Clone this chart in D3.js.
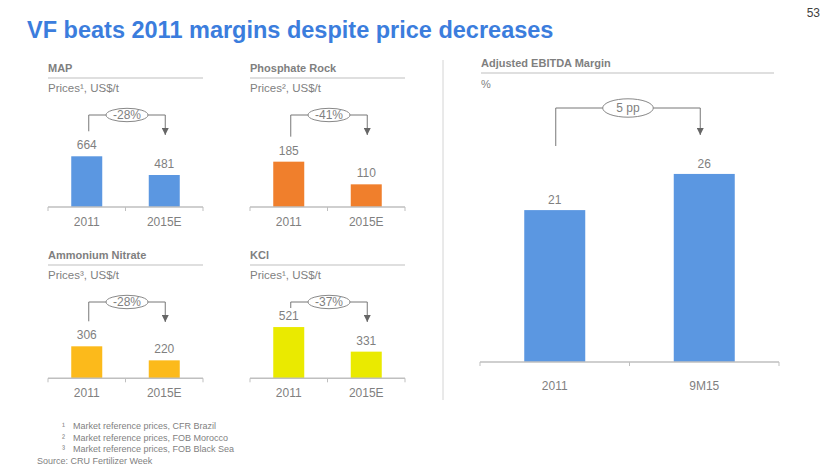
<!DOCTYPE html>
<html>
<head>
<meta charset="utf-8">
<script src="https://cdn.jsdelivr.net/npm/d3@7"></script>
<style>
  html, body { margin: 0; padding: 0; background: #fff; }
  svg { display: block; font-family: "Liberation Sans", Arial, sans-serif; }
</style>
</head>
<body>
<svg id="chart" width="830" height="467"></svg>
<script>
// ---------- DATA ----------
const pageTitle = "VF beats 2011 margins despite price decreases";
const pageNumber = "53";

const priceCategories = ["2011", "2015E"];
const panelTitles = ["MAP", "Phosphate Rock", "Ammonium Nitrate", "KCl"];
const panelUnits = ["Prices¹, US$/t", "Prices², US$/t", "Prices³, US$/t", "Prices¹, US$/t"];
const mapPrices = [664, 481];
const phosphateRockPrices = [185, 110];
const ammoniumNitratePrices = [306, 220];
const kclPrices = [521, 331];
const priceChangeLabels = ["-28%", "-41%", "-28%", "-37%"];
// value-axis domains as drawn in the source (axes do not start at zero)
const priceAxisMin = [168, 35, 110, 125];
const priceAxisMax = [706, 217, 447, 550];

const ebitdaTitle = "Adjusted EBITDA Margin";
const ebitdaUnit = "%";
const ebitdaCategories = ["2011", "9M15"];
const ebitdaValues = [21, 26];
const ebitdaChangeLabel = "5 pp";
const ebitdaAxisMax = 30;

const footnotes = [
  ["¹", "Market reference prices, CFR Brazil"],
  ["²", "Market reference prices, FOB Morocco"],
  ["³", "Market reference prices, FOB Black Sea"]
];
const sourceNote = "Source: CRU Fertilizer Week";

// ---------- STYLE ----------
const GRAY = "#7f7f7f";
const LIGHT = "#d4d4d4";
const AXIS = "#bfbfbf";
const panelColors = ["#5b97e1", "#f07f2c", "#fcba1b", "#eaea00"];
const ebitdaColor = "#5b97e1";

const svg = d3.select("#chart");

// title + page number
svg.append("text").attr("x", 27).attr("y", 38)
  .attr("font-size", 23.5).attr("font-weight", "bold").attr("fill", "#3b7ddd")
  .text(pageTitle);
svg.append("text").attr("x", 820).attr("y", 17).attr("text-anchor", "end")
  .attr("font-size", 12).attr("fill", "#404040").text(pageNumber);

// divider
svg.append("line").attr("x1", 443).attr("x2", 443).attr("y1", 60).attr("y2", 400)
  .attr("stroke", LIGHT).attr("stroke-width", 1);

// defs arrow
svg.append("defs").append("marker")
  .attr("id", "arrow").attr("viewBox", "0 0 10 10")
  .attr("refX", 10).attr("refY", 5)
  .attr("markerWidth", 7).attr("markerHeight", 7)
  .attr("markerUnits", "userSpaceOnUse")
  .attr("orient", "auto")
  .append("path").attr("d", "M0,0 L10,5 L0,10 Z").attr("fill", "#666");

function drawAxis(g, x0, x1, y) {
  g.append("line").attr("x1", x0).attr("x2", x1).attr("y1", y).attr("y2", y)
    .attr("stroke", AXIS).attr("stroke-width", 1.5);
  [x0, (x0 + x1) / 2, x1].forEach(x => {
    g.append("line").attr("x1", x).attr("x2", x).attr("y1", y).attr("y2", y + 4)
      .attr("stroke", AXIS).attr("stroke-width", 1);
  });
}

function drawBracket(g, xl, xr, yTop, yLeftEnd, yArrowEnd, label, rx, ry) {
  g.append("path")
    .attr("d", `M${xl},${yLeftEnd} L${xl},${yTop} L${xr},${yTop} L${xr},${yArrowEnd}`)
    .attr("fill", "none").attr("stroke", "#777").attr("stroke-width", 1)
    .attr("marker-end", "url(#arrow)");
  const cx = (xl + xr) / 2;
  g.append("ellipse").attr("cx", cx).attr("cy", yTop).attr("rx", rx).attr("ry", ry)
    .attr("fill", "#fff").attr("stroke", "#888").attr("stroke-width", 1);
  g.append("text").attr("x", cx).attr("y", yTop + 4.3).attr("text-anchor", "middle")
    .attr("font-size", 12).attr("fill", GRAY).text(label);
}

// ---------- small price panels ----------
const priceSeries = [mapPrices, phosphateRockPrices, ammoniumNitratePrices, kclPrices];
const panelX = [48, 250, 48, 250];
const panelTop = [0, 0, 187, 187];
const panelW = 155;

priceSeries.forEach((vals, i) => {
  const g = svg.append("g");
  const x0 = panelX[i], x1 = x0 + panelW;
  const dy = panelTop[i];
  const base = 207 + (i >= 2 ? 171.3 : 0);

  g.append("text").attr("x", x0).attr("y", 72 + dy)
    .attr("font-size", 11).attr("font-weight", "bold").attr("fill", GRAY)
    .text(panelTitles[i]);
  g.append("line").attr("x1", x0).attr("x2", x1).attr("y1", 78 + dy).attr("y2", 78 + dy)
    .attr("stroke", LIGHT).attr("stroke-width", 1.5);
  g.append("text").attr("x", x0).attr("y", 92 + dy)
    .attr("font-size", 11.5).attr("fill", GRAY).text(panelUnits[i]);

  const x = d3.scaleBand().domain(priceCategories).range([x0, x1]).padding(0);
  const y = d3.scaleLinear().domain([priceAxisMin[i], priceAxisMax[i]]).range([base, base - 55]);
  const bw = x.bandwidth() * 0.4;

  g.selectAll("rect.bar").data(vals).enter().append("rect")
    .attr("x", (d, j) => x(priceCategories[j]) + (x.bandwidth() - bw) / 2)
    .attr("y", d => y(d))
    .attr("width", bw)
    .attr("height", d => base - y(d))
    .attr("fill", panelColors[i]);

  g.selectAll("text.val").data(vals).enter().append("text")
    .attr("x", (d, j) => x(priceCategories[j]) + x.bandwidth() / 2)
    .attr("y", d => y(d) - 7)
    .attr("text-anchor", "middle").attr("font-size", 12).attr("fill", GRAY)
    .text(d => d);

  drawAxis(g, x0, x1, base);
  g.selectAll("text.cat").data(priceCategories).enter().append("text")
    .attr("x", d => x(d) + x.bandwidth() / 2)
    .attr("y", base + 19)
    .attr("text-anchor", "middle").attr("font-size", 12).attr("fill", GRAY)
    .text(d => d);

  const bTop = 115 + dy;
  const xl = x(priceCategories[0]) + x.bandwidth() / 2 + 2;
  const xr = x(priceCategories[1]) + x.bandwidth() / 2 + 1;
  const leftEnd = Math.max(y(vals[0]) - 25, bTop + 6);
  drawBracket(g, xl, xr, bTop, leftEnd, bTop + 20, priceChangeLabels[i], 21, 6.7);
});

// ---------- EBITDA panel ----------
{
  const g = svg.append("g");
  const x0 = 480, x1 = 779, base = 362;
  g.append("text").attr("x", 481).attr("y", 66.5)
    .attr("font-size", 11).attr("font-weight", "bold").attr("fill", GRAY).text(ebitdaTitle);
  g.append("line").attr("x1", 481).attr("x2", 774).attr("y1", 73).attr("y2", 73)
    .attr("stroke", LIGHT).attr("stroke-width", 1.5);
  g.append("text").attr("x", 481).attr("y", 88)
    .attr("font-size", 11).attr("fill", GRAY).text(ebitdaUnit);

  const x = d3.scaleBand().domain(ebitdaCategories).range([x0, x1]).padding(0);
  const y = d3.scaleLinear().domain([0, ebitdaAxisMax]).range([base, base - 217]);
  const bw = 61;

  g.selectAll("rect").data(ebitdaValues).enter().append("rect")
    .attr("x", (d, j) => x(ebitdaCategories[j]) + (x.bandwidth() - bw) / 2)
    .attr("y", d => y(d)).attr("width", bw).attr("height", d => base - y(d))
    .attr("fill", ebitdaColor);

  g.selectAll("text.val").data(ebitdaValues).enter().append("text")
    .attr("x", (d, j) => x(ebitdaCategories[j]) + x.bandwidth() / 2)
    .attr("y", d => y(d) - 6)
    .attr("text-anchor", "middle").attr("font-size", 12).attr("fill", GRAY).text(d => d);

  drawAxis(g, x0, x1, base);
  g.selectAll("text.cat").data(ebitdaCategories).enter().append("text")
    .attr("x", d => x(d) + x.bandwidth() / 2).attr("y", base + 28)
    .attr("text-anchor", "middle").attr("font-size", 12).attr("fill", GRAY).text(d => d);

  const xl = x(ebitdaCategories[0]) + x.bandwidth() / 2 + 1;
  const xr = x(ebitdaCategories[1]) + x.bandwidth() / 2 - 4;
  drawBracket(g, xl, xr, 108, 146, 135, ebitdaChangeLabel, 25.3, 9.2);
}

// ---------- footnotes ----------
const fn = svg.append("g").attr("font-size", 9).attr("fill", GRAY);
footnotes.forEach((f, i) => {
  const yy = 429 + i * 11.5;
  fn.append("text").attr("x", 62).attr("y", yy).text(f[0]);
  fn.append("text").attr("x", 73).attr("y", yy).text(f[1]);
});
fn.append("text").attr("x", 37).attr("y", 429 + 3 * 11.5).text(sourceNote);
</script>
</body>
</html>
